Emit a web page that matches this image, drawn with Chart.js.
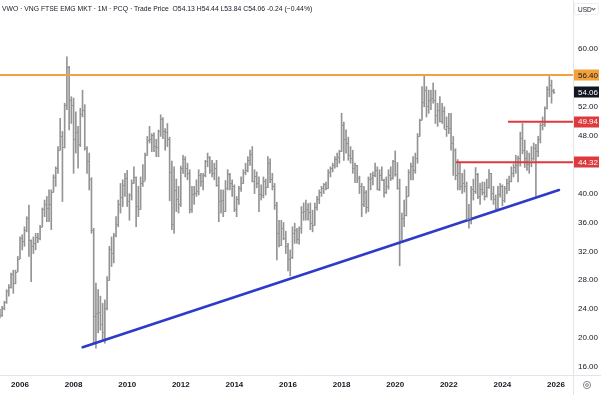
<!DOCTYPE html>
<html>
<head>
<meta charset="utf-8">
<script src="https://cdn.jsdelivr.net/npm/chart.js@4.4.1/dist/chart.umd.min.js"></script>
<style>
  html, body { margin: 0; padding: 0; background: #fff; }
  #wrap { position: relative; width: 601px; height: 395px; }
  #hdr { position: absolute; left: 2px; top: 5px; font: 6.8px "Liberation Sans", Arial, sans-serif; color: #131722; white-space: nowrap; }
  #usd { position: absolute; left: 574px; top: 3px; width: 25px; height: 12px; border: 1px solid #eceef2; border-radius: 2px;
         font: 6.5px "Liberation Sans", Arial, sans-serif; color: #131722; line-height: 11px; padding-left: 3px; box-sizing: border-box; }
  #usd i { position: absolute; right: 3px; top: 3px; width: 2px; height: 2px; border-right: 1px solid #555; border-bottom: 1px solid #555; transform: rotate(45deg); }
</style>
</head>
<body>
<div id="wrap">
  <canvas id="chart" width="601" height="395"></canvas>
  <div id="hdr">VWO · VNG FTSE EMG MKT · 1M · PCQ · Trade Price &nbsp;O54.13 H54.44 L53.84 C54.06 -0.24 (−0.44%)</div>
  <div id="usd">USD<i></i></div>
</div>
<script>
// monthly bars, first bar = April 2005
const firstYear = 2005;
const firstMonth = 3; // 0-based, April

const highs = [
  24.0, 24.4, 25.1, 26.7, 27.4, 29.0, 29.4, 29.4, 31.3,                          // 2005
  34.0, 34.3, 35.4, 36.8, 38.4, 33.6, 34.0, 34.5, 34.5, 35.6, 38.0, 39.1,        // 2006
  39.6, 40.5, 40.5, 42.6, 43.7, 46.5, 50.4, 48.6, 52.5, 58.9, 57.6, 53.4,        // 2007
  53.2, 51.3, 49.3, 51.8, 54.3, 52.3, 46.5, 45.6, 42.2, 35.2, 27.6, 26.7,        // 2008
  25.8, 24.8, 25.3, 28.5, 32.7, 34.0, 34.5, 36.8, 39.1, 41.4, 41.9, 42.8,        // 2009
  43.2, 40.0, 41.9, 43.7, 42.3, 41.0, 42.3, 44.0, 45.6, 47.9, 49.3, 48.3,        // 2010
  48.4, 47.5, 48.8, 50.9, 50.5, 49.0, 49.7, 47.8, 44.5, 43.7, 42.0, 41.0,        // 2011
  43.8, 45.3, 45.1, 44.2, 43.3, 41.0, 41.0, 41.9, 43.3, 42.8, 42.8, 44.6,        // 2012
  45.6, 45.1, 44.6, 44.2, 44.6, 42.3, 40.5, 40.5, 41.8, 43.3, 42.8, 41.9,        // 2013
  41.2, 39.6, 41.0, 42.3, 43.3, 44.2, 45.1, 46.0, 46.5, 43.3, 43.0, 42.3,        // 2014
  41.2, 42.3, 42.0, 45.1, 44.8, 42.8, 41.4, 38.8, 36.3, 36.3, 36.0, 34.8,        // 2015
  33.1, 32.2, 35.4, 35.9, 35.2, 35.4, 38.2, 38.7, 39.1, 38.6, 38.7, 37.7,        // 2016
  38.7, 39.6, 40.5, 41.0, 41.4, 41.6, 43.3, 43.7, 44.2, 45.1, 45.6, 46.0,        // 2017
  51.1, 49.9, 48.8, 47.8, 46.5, 46.0, 44.2, 43.9, 42.4, 41.4, 41.0, 40.4,        // 2018
  42.3, 42.8, 43.0, 44.2, 43.7, 43.3, 43.7, 42.0, 42.3, 43.3, 43.7, 44.6,        // 2019
  45.9, 44.3, 42.0, 37.3, 39.1, 41.0, 43.3, 44.2, 45.1, 45.6, 48.3, 50.3,        // 2020
  54.8, 56.4, 54.8, 54.3, 54.3, 55.3, 54.3, 52.5, 53.4, 52.5, 52.0, 50.6,        // 2021
  51.1, 51.1, 47.9, 46.2, 44.7, 44.2, 42.8, 43.3, 41.6, 38.5, 41.0, 42.0,        // 2022
  43.6, 42.8, 41.4, 41.6, 41.6, 42.0, 43.3, 42.8, 41.0, 39.8, 41.0, 41.4,        // 2023
  41.2, 41.0, 42.0, 42.4, 43.7, 44.1, 45.3, 45.2, 48.5, 49.7, 47.4, 45.9,        // 2024
  45.6, 46.5, 47.0, 46.8, 47.9, 49.7, 50.6, 52.0, 54.8, 56.2, 55.7, 54.44        // 2025
];

const lows = [
  22.8, 23.0, 23.9, 24.8, 25.8, 26.9, 26.2, 27.5, 29.2,
  31.0, 32.2, 32.7, 34.7, 31.3, 27.8, 31.7, 32.2, 33.2, 33.6, 35.4, 36.8,
  36.1, 36.1, 35.0, 40.2, 41.0, 42.8, 46.0, 38.9, 46.3, 51.6, 48.8, 49.7,
  42.8, 45.6, 43.5, 46.5, 50.6, 46.0, 42.8, 40.5, 34.5, 19.3, 18.6, 20.7,
  21.1, 19.8, 19.3, 23.9, 28.0, 29.9, 30.4, 34.0, 35.4, 37.3, 38.2, 39.6,
  38.2, 36.3, 39.1, 41.4, 35.4, 36.8, 37.8, 41.0, 41.8, 45.3, 47.0, 45.8,
  45.8, 45.1, 45.1, 47.9, 47.6, 46.0, 46.5, 39.0, 35.0, 34.5, 37.5, 37.3,
  38.2, 42.8, 42.3, 41.9, 37.3, 37.4, 38.5, 39.6, 39.8, 41.0, 40.5, 42.3,
  43.7, 42.8, 42.3, 41.9, 41.0, 36.1, 37.3, 36.8, 37.5, 40.5, 40.5, 39.6,
  37.5, 36.8, 38.5, 40.3, 41.4, 42.6, 43.0, 43.9, 41.6, 40.0, 40.8, 37.5,
  39.1, 39.4, 39.8, 40.8, 41.5, 40.5, 37.8, 30.8, 32.6, 32.8, 33.6, 31.7,
  29.3, 28.6, 31.0, 33.1, 33.1, 33.0, 34.5, 36.3, 36.3, 36.3, 35.0, 34.7,
  35.6, 37.7, 38.6, 39.6, 40.0, 40.5, 40.7, 42.3, 43.0, 43.5, 43.7, 44.2,
  45.8, 44.6, 45.6, 44.6, 44.2, 42.8, 41.5, 41.5, 40.0, 36.8, 38.2, 37.3,
  37.5, 40.5, 41.2, 42.3, 40.5, 40.4, 41.8, 39.5, 40.0, 40.6, 41.8, 42.0,
  42.4, 40.6, 30.0, 33.4, 35.4, 36.9, 39.6, 41.9, 41.9, 42.8, 44.2, 47.9,
  50.2, 52.0, 50.6, 51.1, 51.6, 52.5, 49.7, 49.3, 49.9, 49.7, 49.0, 47.9,
  48.3, 46.0, 42.5, 41.9, 40.5, 40.5, 40.0, 40.2, 36.3, 35.2, 35.8, 39.1,
  40.0, 39.3, 38.5, 39.8, 39.1, 39.5, 40.7, 39.1, 38.5, 37.6, 37.8, 39.5,
  38.3, 38.8, 40.0, 40.4, 41.6, 42.3, 42.8, 41.6, 43.8, 45.5, 43.6, 43.2,
  42.8, 43.7, 44.6, 39.6, 45.1, 47.0, 48.8, 49.3, 51.7, 53.4, 52.5, 53.84
];

const opens = [
  23.6, 23.2, 24.2, 25.0, 26.5, 27.0, 28.8, 27.6, 29.2,
  31.0, 33.8, 33.5, 35.0, 36.6, 33.6, 32.8, 33.2, 34.0, 33.8, 35.4, 37.8,
  38.6, 38.0, 38.5, 40.2, 42.3, 43.5, 46.0, 48.0, 46.5, 52.2, 57.5, 53.0,
  52.2, 47.5, 48.5, 46.8, 51.0, 51.5, 46.3, 44.5, 42.0, 35.0, 23.0, 23.5,
  23.6, 22.0, 20.8, 24.2, 28.0, 32.3, 31.8, 34.2, 35.8, 38.5, 39.5, 41.2,
  42.2, 39.0, 39.8, 41.5, 42.3, 38.3, 37.9, 41.5, 41.8, 45.4, 47.4, 47.5,
  48.1, 46.6, 46.4, 48.6, 50.3, 48.6, 48.5, 47.6, 43.0, 35.8, 40.5, 39.2,
  38.5, 43.5, 44.8, 43.5, 42.8, 37.8, 40.0, 40.1, 40.3, 42.6, 41.8, 42.6,
  44.5, 45.0, 43.3, 42.9, 43.5, 41.2, 38.9, 39.1, 37.6, 40.8, 42.7, 41.5,
  41.1, 37.9, 39.2, 40.8, 41.5, 43.0, 43.3, 44.7, 45.5, 41.7, 42.4, 41.4,
  40.0, 39.8, 41.8, 40.9, 44.2, 42.0, 41.0, 38.4, 34.5, 32.9, 35.3, 33.9,
  32.7, 31.0, 31.2, 34.6, 35.0, 33.7, 35.3, 37.5, 37.6, 37.9, 37.4, 35.9,
  35.6, 38.2, 39.3, 40.2, 40.8, 41.3, 40.8, 43.0, 43.6, 43.9, 44.8, 45.0,
  45.9, 49.5, 47.6, 47.0, 45.4, 44.9, 43.5, 43.9, 42.2, 41.0, 38.5, 40.2,
  38.1, 42.0, 42.1, 42.5, 43.2, 40.6, 42.5, 41.9, 40.2, 41.0, 42.6, 42.2,
  44.5, 42.7, 40.8, 33.6, 36.6, 37.0, 39.7, 43.0, 43.8, 43.3, 44.9, 48.0,
  50.2, 52.6, 54.3, 52.1, 52.9, 53.2, 53.0, 50.8, 51.5, 50.1, 51.4, 49.0,
  49.4, 49.1, 47.0, 46.0, 42.6, 42.8, 41.0, 41.5, 41.1, 36.5, 36.6, 40.6,
  40.3, 42.7, 39.6, 40.6, 40.2, 39.6, 40.9, 42.8, 40.1, 39.3, 38.0, 40.0,
  41.0, 39.1, 40.7, 41.4, 41.8, 42.9, 43.7, 44.0, 44.9, 47.7, 46.0, 44.9,
  44.1, 44.5, 44.9, 46.3, 45.9, 47.5, 49.5, 49.6, 51.9, 54.4, 55.0, 54.13
];

const closes = [
  23.2, 24.2, 25.0, 26.5, 27.0, 28.8, 27.6, 29.2, 31.0,
  33.8, 33.5, 35.0, 36.6, 33.6, 32.8, 33.2, 34.0, 33.8, 35.4, 37.8, 38.6,
  38.0, 38.5, 40.2, 42.3, 43.5, 46.0, 48.0, 46.5, 52.2, 57.5, 53.0, 52.2,
  47.5, 48.5, 46.8, 51.0, 51.5, 46.3, 44.5, 42.0, 35.0, 23.0, 23.5, 23.6,
  22.0, 20.8, 24.2, 28.0, 32.3, 31.8, 34.2, 35.8, 38.5, 39.5, 41.2, 42.2,
  39.0, 39.8, 41.5, 42.3, 38.3, 37.9, 41.5, 41.8, 45.4, 47.4, 47.5, 48.1,
  46.6, 46.4, 48.6, 50.3, 48.6, 48.5, 47.6, 43.0, 35.8, 40.5, 39.2, 38.5,
  43.5, 44.8, 43.5, 42.8, 37.8, 40.0, 40.1, 40.3, 42.6, 41.8, 42.6, 44.5,
  45.0, 43.3, 42.9, 43.5, 41.2, 38.9, 39.1, 37.6, 40.8, 42.7, 41.5, 41.1,
  37.9, 39.2, 40.8, 41.5, 43.0, 43.3, 44.7, 45.5, 41.7, 42.4, 41.4, 40.0,
  39.8, 41.8, 40.9, 44.2, 42.0, 41.0, 38.4, 34.5, 32.9, 35.3, 33.9, 32.7,
  31.0, 31.2, 34.6, 35.0, 33.7, 35.3, 37.5, 37.6, 37.9, 37.4, 35.9, 35.6,
  38.2, 39.3, 40.2, 40.8, 41.3, 40.8, 43.0, 43.6, 43.9, 44.8, 45.0, 45.9,
  49.5, 47.6, 47.0, 45.4, 44.9, 43.5, 43.9, 42.2, 41.0, 38.5, 40.2, 38.1,
  42.0, 42.1, 42.5, 43.2, 40.6, 42.5, 41.9, 40.2, 41.0, 42.6, 42.2, 44.5,
  42.7, 40.8, 33.6, 36.6, 37.0, 39.7, 43.0, 43.8, 43.3, 44.9, 48.0, 50.2,
  52.6, 54.3, 52.1, 52.9, 53.2, 53.0, 50.8, 51.5, 50.1, 51.4, 49.0, 49.4,
  49.1, 47.0, 46.0, 42.6, 42.8, 41.0, 41.5, 41.1, 36.5, 36.6, 40.6, 40.3,
  42.7, 39.6, 40.6, 40.2, 39.6, 40.9, 42.8, 40.1, 39.3, 38.0, 40.0, 41.0,
  39.1, 40.7, 41.4, 41.8, 42.9, 43.7, 44.0, 44.9, 47.7, 46.0, 44.9, 44.1,
  44.5, 44.9, 46.3, 45.9, 47.5, 49.5, 49.6, 51.9, 54.4, 55.0, 54.3, 54.06
];

// horizontal levels (price, decimal year where the line starts)
const levelPrices = [56.40, 49.94, 44.32];
const levelStarts = [2005.25, 2024.21, 2022.27];
// rising trendline through the lows
const trendYears = [2008.34, 2026.11];
const trendPrices = [18.73, 40.49];

const yearTicks = [2006, 2008, 2010, 2012, 2014, 2016, 2018, 2020, 2022, 2024, 2026];
const priceTicks = [16, 20, 24, 28, 32, 36, 40, 48, 52, 60]; // 44 and 56 sit under the level tags

const X_MIN = 2005.254, X_MAX = 2026.634;
const Y_MIN = 14.893, Y_MAX = 63.736;

const BAR = '#949494';
const ORANGE = '#f3a23a';
const RED = '#dc3a3c';
const BLUE = '#2c3cc8';
const AXIS_LINE = '#e3e5ea';
const FONT = '"Liberation Sans", Arial, sans-serif';

const monthX = highs.map((_, i) => firstYear + (firstMonth + i) / 12);
const lastClose = closes[closes.length - 1];

function levelLine(price, start, color) {
  return {
    type: 'line',
    data: [{ x: start, y: price }, { x: X_MAX, y: price }],
    borderColor: color,
    borderWidth: 2,
    pointRadius: 0,
    order: 1
  };
}

const ohlcTicks = {
  id: 'ohlcTicks',
  afterDatasetsDraw(chart) {
    const { ctx, scales: { x, y } } = chart;
    ctx.save();
    ctx.strokeStyle = BAR;
    ctx.lineWidth = 1;
    ctx.beginPath();
    monthX.forEach((mx, i) => {
      const px = x.getPixelForValue(mx);
      const po = Math.round(y.getPixelForValue(opens[i])) + 0.5;
      const pc = Math.round(y.getPixelForValue(closes[i])) + 0.5;
      ctx.moveTo(px - 1.4, po); ctx.lineTo(px, po);
      ctx.moveTo(px, pc); ctx.lineTo(px + 1.4, pc);
    });
    ctx.stroke();
    ctx.restore();
  }
};

const frame = {
  id: 'frame',
  beforeDatasetsDraw(chart) {
    const { ctx, chartArea: a, width, height } = chart;
    ctx.save();
    ctx.strokeStyle = AXIS_LINE;
    ctx.lineWidth = 1;
    ctx.beginPath();
    ctx.moveTo(Math.round(a.right) + 0.5, 0);
    ctx.lineTo(Math.round(a.right) + 0.5, height);
    ctx.moveTo(0, Math.round(a.bottom) + 0.5);
    ctx.lineTo(width, Math.round(a.bottom) + 0.5);
    ctx.stroke();
    ctx.restore();
  },
  afterDraw(chart) {
    const { ctx, chartArea: a, scales: { y } } = chart;
    const tags = [
      { v: levelPrices[0], bg: ORANGE, fg: '#131722' },
      { v: lastClose, bg: '#131722', fg: '#ffffff' },
      { v: levelPrices[1], bg: RED, fg: '#ffffff' },
      { v: levelPrices[2], bg: RED, fg: '#ffffff' }
    ];
    ctx.save();
    ctx.font = '8px ' + FONT;
    ctx.textBaseline = 'middle';
    tags.forEach(t => {
      const py = y.getPixelForValue(t.v);
      ctx.fillStyle = t.bg;
      ctx.fillRect(a.right + 1, Math.round(py) - 5.5, 25, 11);
      ctx.fillStyle = t.fg;
      ctx.fillText(t.v.toFixed(2), a.right + 5, py + 0.5);
    });
    // settings gear in the corner
    const gx = a.right + 14, gy = a.bottom + 10;
    ctx.strokeStyle = '#6a6d78';
    ctx.lineWidth = 0.8;
    ctx.beginPath(); ctx.arc(gx, gy, 3.6, 0, Math.PI * 2); ctx.stroke();
    ctx.beginPath(); ctx.arc(gx, gy, 1.4, 0, Math.PI * 2); ctx.stroke();
    ctx.restore();
  }
};

new Chart(document.getElementById('chart'), {
  type: 'bar',
  data: {
    datasets: [
      {
        type: 'bar',
        data: monthX.map((mx, i) => ({ x: mx, y: [lows[i], highs[i]] })),
        backgroundColor: BAR,
        borderWidth: 0,
        barThickness: 1,
        grouped: false,
        order: 10
      },
      levelLine(levelPrices[0], levelStarts[0], ORANGE),
      levelLine(levelPrices[1], levelStarts[1], RED),
      levelLine(levelPrices[2], levelStarts[2], RED),
      {
        type: 'line',
        data: trendYears.map((t, i) => ({ x: t, y: trendPrices[i] })),
        borderColor: BLUE,
        borderWidth: 2.6,
        pointRadius: 0,
        borderCapStyle: 'round',
        order: 0
      }
    ]
  },
  options: {
    responsive: false,
    animation: false,
    events: [],
    layout: { padding: { top: 22, left: 0, right: 0, bottom: 0 } },
    plugins: { legend: { display: false }, tooltip: { enabled: false } },
    scales: {
      x: {
        type: 'linear',
        min: X_MIN,
        max: X_MAX,
        offset: false,
        grid: { display: false, drawTicks: false },
        border: { display: false },
        afterBuildTicks: s => { s.ticks = yearTicks.map(v => ({ value: v })); },
        afterFit: s => { s.height = 20; },
        ticks: {
          autoSkip: false,
          maxRotation: 0,
          padding: 5,
          color: '#131722',
          font: { family: FONT, size: 8, weight: 'bold' },
          callback: v => String(v)
        }
      },
      y: {
        position: 'right',
        min: Y_MIN,
        max: Y_MAX,
        grid: { display: false, drawTicks: false },
        border: { display: false },
        afterBuildTicks: s => { s.ticks = priceTicks.map(v => ({ value: v })); },
        afterFit: s => { s.width = 28; },
        ticks: {
          padding: 5,
          color: '#131722',
          font: { family: FONT, size: 8 },
          callback: v => v.toFixed(2)
        }
      }
    }
  },
  plugins: [frame, ohlcTicks]
});
</script>
</body>
</html>
